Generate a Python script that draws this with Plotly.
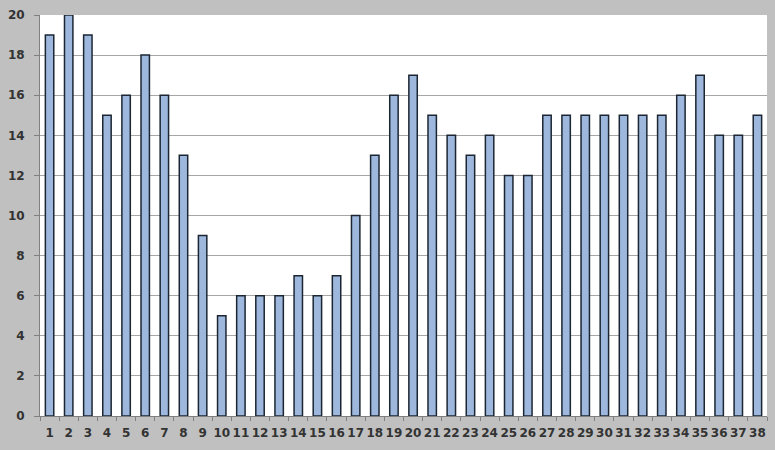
import plotly.graph_objects as go

categories = [str(i) for i in range(1, 39)]
values = [19, 20, 19, 15, 16, 18, 16, 13, 9, 5, 6, 6, 6, 7, 6, 7, 10, 13, 16, 17,
          15, 14, 13, 14, 12, 12, 15, 15, 15, 15, 15, 15, 15, 16, 17, 14, 14, 15]
y_ticks = list(range(0, 21, 2))

fig = go.Figure(go.Bar(
    x=categories, y=values,
    marker=dict(color="#9db8dc", line=dict(color="#1c2633", width=1.5)),
))

fig.update_layout(
    width=775, height=450,
    margin=dict(l=40, r=8, t=11, b=34),
    paper_bgcolor="#c0c0c0",
    plot_bgcolor="#ffffff",
    bargap=0.56,
    showlegend=False,
    font=dict(family="DejaVu Sans", size=12, color="#333333"),
)
fig.update_xaxes(
    type="category", showgrid=False, ticks="outside", tickson="boundaries",
    ticklen=4, tickcolor="#808080", showline=True, linecolor="#808080",
    tickfont=dict(size=12, weight="bold"), tickangle=0, ticklabelstandoff=6,
)
fig.update_yaxes(
    range=[0, 20], tickvals=y_ticks, showgrid=True, gridcolor="#a6a6a6",
    gridwidth=1, ticks="outside", ticklen=5, tickcolor="#808080",
    showline=True, linecolor="#808080", zeroline=False,
    tickfont=dict(size=12, weight="bold"), ticklabelstandoff=7,
)

fig.write_html(
    "out.html",
    config={"displayModeBar": False},
    post_script="document.body.style.margin='0';document.body.style.padding='0';"
                "document.documentElement.style.overflow='hidden';",
)
